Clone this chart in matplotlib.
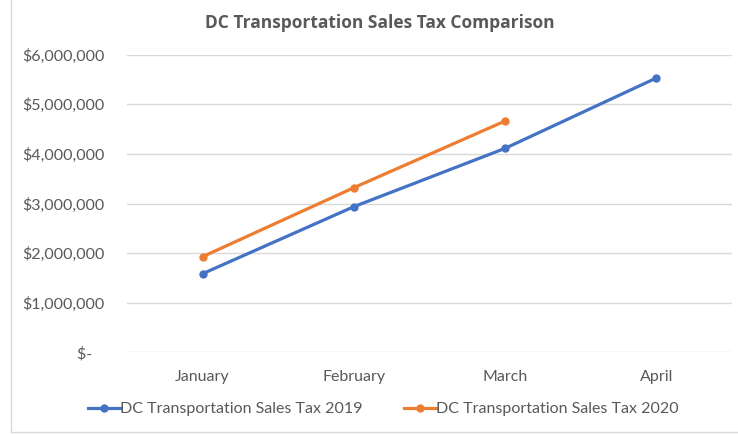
import matplotlib
matplotlib.use("Agg")
import matplotlib.pyplot as plt
from matplotlib.ticker import FuncFormatter
from matplotlib.lines import Line2D

months = ["January", "February", "March", "April"]
tax_2019 = [1586000, 2937000, 4113000, 5531000]
tax_2020 = [1929000, 3320000, 4664000]
series_names = ["DC Transportation Sales Tax 2019", "DC Transportation Sales Tax 2020"]
title = "DC Transportation Sales Tax Comparison"
yticks = [0, 1000000, 2000000, 3000000, 4000000, 5000000, 6000000]

plt.rcParams['font.family'] = ['Lato', 'DejaVu Sans']
text_color = "#595959"
blue = "#4472C4"
orange = "#ED7D31"

fig = plt.figure(figsize=(7.38, 4.34), dpi=100)
ax = fig.add_axes([0.172, 0.188, 0.820, 0.686])

x19 = list(range(len(tax_2019)))
x20 = list(range(len(tax_2020)))
ax.plot(x19, tax_2019, color=blue, lw=2.3, marker='o', ms=5, solid_capstyle='round', zorder=3)
ax.plot(x20, tax_2020, color=orange, lw=2.3, marker='o', ms=5, solid_capstyle='round', zorder=3)

ax.set_xlim(-0.5, 3.5)
ax.set_ylim(0, 6000000)
ax.set_yticks(yticks)
ax.set_xticks(range(len(months)))
ax.set_xticklabels(months)

def fmt(v, pos):
    if v == 0:
        return "$-   "
    return "${:,.0f}".format(v)
ax.yaxis.set_major_formatter(FuncFormatter(fmt))

for s in ax.spines.values():
    s.set_visible(False)
ax.grid(axis='y', color="#D9D9D9", lw=1)
ax.set_axisbelow(True)
ax.tick_params(axis='both', length=0, colors=text_color, labelsize=11.5)
ax.tick_params(axis='y', pad=16)
ax.tick_params(axis='x', pad=13)

fig.text(0.515, 0.948, title, ha='center', va='center', fontsize=12.5,
         fontweight='bold', color=text_color, family=['Open Sans', 'DejaVu Sans'])

handles = [Line2D([0], [0], color=blue, lw=2.3, marker='o', ms=5),
           Line2D([0], [0], color=orange, lw=2.3, marker='o', ms=5)]
leg = fig.legend(handles, series_names, loc='center', bbox_to_anchor=(0.52, 0.057),
                 ncol=2, frameon=False, fontsize=11.5, handlelength=2.0,
                 handletextpad=0.0, columnspacing=2.6)
for t in leg.get_texts():
    t.set_color(text_color)

# chart border (left and bottom visible)
fig.add_artist(Line2D([0.0149, 0.0149], [0.004, 1.0], color="#D9D9D9", lw=1, transform=fig.transFigure))
fig.add_artist(Line2D([0.0149, 1.0], [0.005, 0.005], color="#D9D9D9", lw=1, transform=fig.transFigure))

fig.savefig("out.png", dpi=100)
